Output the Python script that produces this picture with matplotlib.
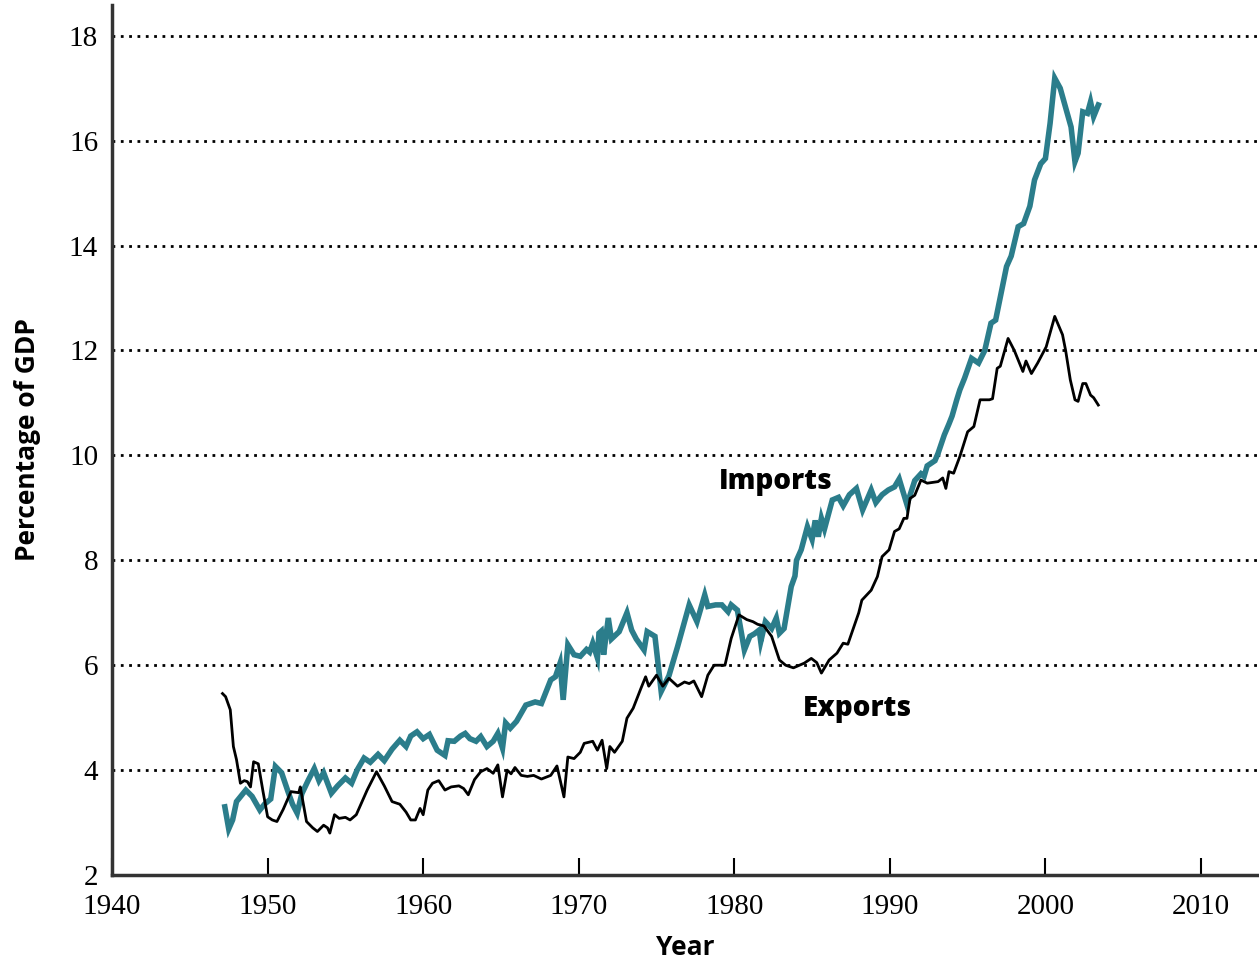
import numpy as np
import matplotlib
matplotlib.use("Agg")
import matplotlib.pyplot as plt

# Imports as % of GDP
imp_year = [1947.25, 1947.5, 1947.75, 1948.0, 1948.6, 1949.0, 1949.5, 1949.8, 1950.2, 1950.5,
            1950.9, 1951.3, 1951.6, 1951.9, 1952.2, 1952.6, 1953.0, 1953.3, 1953.6, 1954.1,
            1954.5, 1955.0, 1955.4, 1955.75, 1956.2, 1956.6, 1957.1, 1957.5, 1958.0, 1958.5,
            1958.9, 1959.2, 1959.6, 1960.0, 1960.4, 1960.9, 1961.4, 1961.6, 1962.0, 1962.4,
            1962.7, 1963.0, 1963.4, 1963.7, 1964.1, 1964.5, 1964.8, 1965.1, 1965.3, 1965.6,
            1966.0, 1966.6, 1967.2, 1967.6, 1968.2, 1968.5, 1968.8, 1969.0, 1969.3, 1969.7,
            1970.1, 1970.5, 1970.7, 1970.9, 1971.2, 1971.3, 1971.45, 1971.6, 1971.9, 1972.1,
            1972.6, 1973.1, 1973.4, 1973.7, 1974.2, 1974.4, 1974.9, 1975.3, 1975.8, 1976.35,
            1977.1, 1977.6, 1978.1, 1978.3, 1978.8, 1979.2, 1979.6, 1979.8, 1980.2, 1980.65,
            1981.0, 1981.3, 1981.6, 1981.7, 1982.0, 1982.4, 1982.7, 1982.9, 1983.2, 1983.66,
            1983.9, 1984.0, 1984.3, 1984.7, 1985.0, 1985.2, 1985.4, 1985.6, 1985.8, 1986.3,
            1986.7, 1987.0, 1987.4, 1987.85, 1988.25, 1988.8, 1989.1, 1989.5, 1989.9, 1990.3,
            1990.6, 1991.1, 1991.6, 1992.0, 1992.2, 1992.4, 1992.9, 1993.1, 1993.5, 1993.8,
            1994.0, 1994.3, 1994.5, 1994.8, 1995.25, 1995.7, 1996.1, 1996.5, 1996.8, 1997.1,
            1997.5, 1997.8, 1998.25, 1998.6, 1999.0, 1999.3, 1999.7, 2000.0, 2000.3, 2000.6,
            2000.95, 2001.4, 2001.65, 2001.9, 2002.1, 2002.4, 2002.7, 2002.9, 2003.1, 2003.4]
imp_val = [3.30, 2.88, 3.05, 3.40, 3.62, 3.50, 3.24, 3.35, 3.45, 4.07,
           3.95, 3.60, 3.35, 3.18, 3.55, 3.80, 4.03, 3.80, 3.95, 3.56,
           3.70, 3.85, 3.75, 4.00, 4.23, 4.15, 4.30, 4.18, 4.40, 4.57,
           4.45, 4.65, 4.73, 4.60, 4.68, 4.38, 4.28, 4.56, 4.55, 4.65,
           4.70, 4.60, 4.55, 4.64, 4.45, 4.55, 4.70, 4.42, 4.90, 4.80,
           4.93, 5.24, 5.30, 5.27, 5.72, 5.78, 6.04, 5.34, 6.39, 6.20,
           6.17, 6.30, 6.25, 6.42, 6.14, 6.61, 6.65, 6.20, 6.90, 6.50,
           6.64, 7.00, 6.67, 6.50, 6.29, 6.64, 6.55, 5.50, 5.80, 6.35,
           7.15, 6.83, 7.34, 7.12, 7.15, 7.15, 7.02, 7.15, 7.05, 6.29,
           6.55, 6.60, 6.67, 6.45, 6.83, 6.70, 6.90, 6.61, 6.70, 7.50,
           7.70, 8.00, 8.20, 8.64, 8.40, 8.76, 8.45, 8.80, 8.60, 9.15,
           9.20, 9.04, 9.25, 9.37, 8.96, 9.34, 9.10, 9.25, 9.34, 9.40,
           9.55, 9.06, 9.52, 9.65, 9.60, 9.80, 9.90, 10.04, 10.39, 10.60,
           10.75, 11.06, 11.25, 11.47, 11.85, 11.76, 12.00, 12.52, 12.58, 13.02,
           13.60, 13.80, 14.36, 14.42, 14.75, 15.25, 15.56, 15.66, 16.33, 17.19,
           17.00, 16.52, 16.26, 15.60, 15.76, 16.55, 16.52, 16.74, 16.46, 16.68]

# Exports as % of GDP
exp_year = [1947.1, 1947.3, 1947.6, 1947.8, 1948.0, 1948.25, 1948.5, 1948.7, 1948.9, 1949.1,
            1949.4, 1949.7, 1950.0, 1950.3, 1950.6, 1951.0, 1951.5, 1952.0, 1952.1, 1952.5,
            1952.9, 1953.2, 1953.6, 1953.85, 1954.0, 1954.3, 1954.6, 1955.0, 1955.3, 1955.7,
            1956.0, 1956.4, 1957.0, 1957.5, 1958.0, 1958.5, 1958.9, 1959.2, 1959.5, 1959.8,
            1960.0, 1960.3, 1960.6, 1961.0, 1961.4, 1961.8, 1962.3, 1962.6, 1962.9, 1963.3,
            1963.7, 1964.1, 1964.5, 1964.8, 1965.1, 1965.4, 1965.65, 1965.9, 1966.3, 1966.7,
            1967.1, 1967.6, 1968.2, 1968.6, 1969.05, 1969.3, 1969.7, 1970.1, 1970.35, 1970.9,
            1971.2, 1971.5, 1971.8, 1972.0, 1972.3, 1972.8, 1973.1, 1973.5, 1974.0, 1974.3,
            1974.5, 1975.0, 1975.4, 1975.8, 1976.35, 1976.8, 1977.1, 1977.4, 1977.9, 1978.3,
            1978.7, 1979.4, 1979.8, 1980.3, 1980.8, 1981.2, 1981.5, 1981.9, 1982.4, 1982.9,
            1983.3, 1983.8, 1984.5, 1984.95, 1985.3, 1985.6, 1986.1, 1986.6, 1987.0, 1987.3,
            1987.7, 1988.0, 1988.2, 1988.8, 1989.2, 1989.5, 1989.95, 1990.3, 1990.6, 1990.9,
            1991.1, 1991.3, 1991.6, 1992.0, 1992.4, 1993.1, 1993.4, 1993.6, 1993.8, 1994.1,
            1994.5, 1995.0, 1995.4, 1995.8, 1996.4, 1996.6, 1996.9, 1997.1, 1997.6, 1998.0,
            1998.55, 1998.75, 1999.1, 1999.5, 2000.05, 2000.6, 2001.1, 2001.3, 2001.6, 2001.9,
            2002.1, 2002.4, 2002.6, 2002.9, 2003.1, 2003.4]
exp_val = [5.46, 5.40, 5.15, 4.45, 4.20, 3.75, 3.80, 3.78, 3.68, 4.16,
           4.12, 3.60, 3.11, 3.05, 3.02, 3.25, 3.59, 3.57, 3.68, 3.02,
           2.90, 2.83, 2.95, 2.90, 2.80, 3.15, 3.08, 3.10, 3.05, 3.15,
           3.35, 3.62, 3.97, 3.70, 3.40, 3.35, 3.20, 3.05, 3.05, 3.27,
           3.15, 3.62, 3.75, 3.80, 3.62, 3.68, 3.70, 3.65, 3.53, 3.82,
           3.97, 4.03, 3.94, 4.10, 3.49, 4.00, 3.93, 4.05, 3.90, 3.88,
           3.90, 3.83, 3.90, 4.08, 3.49, 4.25, 4.22, 4.34, 4.51, 4.55,
           4.38, 4.57, 4.03, 4.45, 4.34, 4.55, 4.99, 5.18, 5.56, 5.78,
           5.60, 5.81, 5.60, 5.75, 5.60, 5.68, 5.65, 5.70, 5.40, 5.81,
           6.00, 6.00, 6.51, 6.96, 6.87, 6.83, 6.78, 6.75, 6.55, 6.10,
           6.00, 5.95, 6.04, 6.13, 6.05, 5.85, 6.10, 6.23, 6.42, 6.40,
           6.74, 7.00, 7.24, 7.43, 7.69, 8.07, 8.20, 8.55, 8.60, 8.80,
           8.80, 9.18, 9.24, 9.53, 9.47, 9.50, 9.57, 9.37, 9.69, 9.66,
           9.98, 10.45, 10.55, 11.06, 11.06, 11.08, 11.66, 11.70, 12.23, 12.00,
           11.60, 11.80, 11.56, 11.76, 12.07, 12.65, 12.30, 12.00, 11.44, 11.06,
           11.03, 11.37, 11.37, 11.15, 11.10, 10.96]

x_ticks = [1940, 1950, 1960, 1970, 1980, 1990, 2000, 2010]
y_ticks = [2, 4, 6, 8, 10, 12, 14, 16, 18]

teal = "#2b7d8b"
serif = "Liberation Serif"
sans = "Open Sans"

fig = plt.figure(figsize=(12.59, 9.60), dpi=100)
ax = fig.add_axes([0.089, 0.0885, 0.911, 0.9065])

# dotted grid lines
for y in y_ticks[1:]:
    ax.axhline(y, color="black", linestyle=(0, (1, 2)), linewidth=2.0, zorder=1)

ax.plot(imp_year, imp_val, color=teal, linewidth=4.0, solid_joinstyle="miter", zorder=3)
ax.plot(exp_year, exp_val, color="black", linewidth=2.0, zorder=4)

ax.text(1979.0, 9.5, "Imports", fontfamily=sans, fontweight="heavy", fontsize=20,
        va="center", ha="left")
ax.text(1984.4, 5.18, "Exports", fontfamily=sans, fontweight="heavy", fontsize=20,
        va="center", ha="left")

ax.set_xlim(1940, 2013.73)
ax.set_ylim(2, 18.59)
ax.set_xticks(x_ticks)
ax.set_yticks(y_ticks)
ax.set_xticklabels([str(t) for t in x_ticks], fontfamily=serif, fontsize=21)
ax.set_yticklabels([str(t) for t in y_ticks], fontfamily=serif, fontsize=21)
ax.tick_params(axis="x", direction="in", length=12, width=1.5, pad=14)
ax.tick_params(axis="y", length=0, pad=10)

for s in ["top", "right"]:
    ax.spines[s].set_visible(False)
for s in ["left", "bottom"]:
    ax.spines[s].set_linewidth(2.5)
    ax.spines[s].set_color("#333333")

ax.set_xlabel("Year", fontfamily=sans, fontweight="bold", fontsize=19, labelpad=10)
ax.set_ylabel("Percentage of GDP", fontfamily=sans, fontweight="bold", fontsize=19, labelpad=20)

fig.savefig("out.png", dpi=100)
